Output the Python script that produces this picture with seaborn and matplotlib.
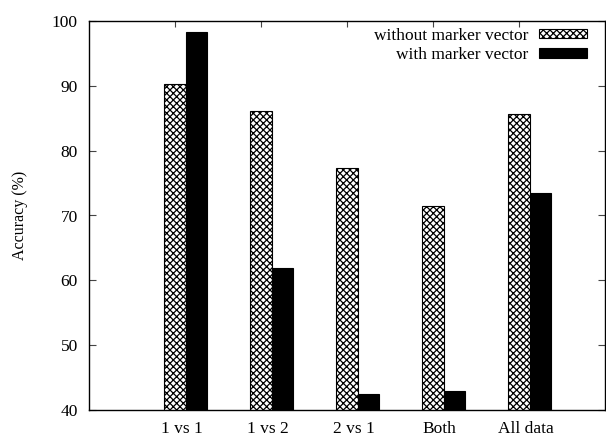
import matplotlib
matplotlib.use("Agg")
import matplotlib.pyplot as plt
import seaborn as sns
import pandas as pd
import numpy as np

categories = ["1 vs 1", "1 vs 2", "2 vs 1", "Both", "All data"]
series_names = ["without marker vector", "with marker vector"]
without_marker = [90.3, 86.1, 77.3, 71.4, 85.7]
with_marker = [98.3, 61.9, 42.4, 43.0, 73.5]
y_ticks = [40, 50, 60, 70, 80, 90, 100]

sns.set_theme(style="white")
plt.rcParams["font.family"] = ["Liberation Serif", "DejaVu Serif"]
plt.rcParams["hatch.linewidth"] = 0.9
plt.rcParams["text.color"] = "black"
plt.rcParams["axes.labelcolor"] = "black"
plt.rcParams["xtick.color"] = "black"
plt.rcParams["ytick.color"] = "black"

FS = 12.5

df = pd.DataFrame({
    "category": categories * 2,
    "series": [series_names[0]] * len(categories) + [series_names[1]] * len(categories),
    "accuracy": without_marker + with_marker,
})

fig = plt.figure(figsize=(6.06, 4.37), dpi=100)
ax = fig.add_axes([89 / 606, 27 / 437, 516 / 606, 389 / 437])

sns.barplot(data=df, x="category", y="accuracy", hue="series",
            order=categories, hue_order=series_names,
            palette=["white", "black"], saturation=1, width=0.5, gap=0,
            edgecolor="black", linewidth=0.8, legend=False, ax=ax)

for bar in ax.containers[0]:
    bar.set_hatch("xxxxx")
    bar.set_edgecolor("black")

ax.set_ylim(40, 100)
ax.set_yticks(y_ticks)
ax.set_xlim(-1.125, 4.875)

n = len(categories)
ax.set_xticks([i - 0.125 for i in range(n)])
ax.set_xticklabels([""] * n)
ax.set_xticks([i - 0.05 for i in range(n)], minor=True)
ax.set_xticklabels(categories, minor=True)
ax.tick_params(axis="x", which="minor", length=0, pad=8, labelsize=FS,
               labelcolor="black")
ax.tick_params(axis="x", which="major", direction="in", length=4, width=0.8,
               top=True, bottom=True, color="#444444")
ax.tick_params(axis="y", direction="in", length=5, width=0.8, left=True,
               right=True, pad=8, labelsize=FS, color="#444444",
               labelcolor="black")

for s in ax.spines.values():
    s.set_color("black")
    s.set_linewidth(1.0)

ax.set_xlabel("")
ax.set_ylabel("Accuracy (%)", fontsize=11.5, labelpad=17, color="black")

handles = [ax.containers[0][0], ax.containers[1][0]]
leg = ax.legend(handles, series_names, loc="upper right",
                bbox_to_anchor=(0.965, 0.983), frameon=False, markerfirst=False,
                handlelength=2.75, handleheight=0.45, handletextpad=0.63,
                labelspacing=0.2, borderpad=0, borderaxespad=0, fontsize=FS,
                labelcolor="black")

fig.savefig("out.png", dpi=100)
